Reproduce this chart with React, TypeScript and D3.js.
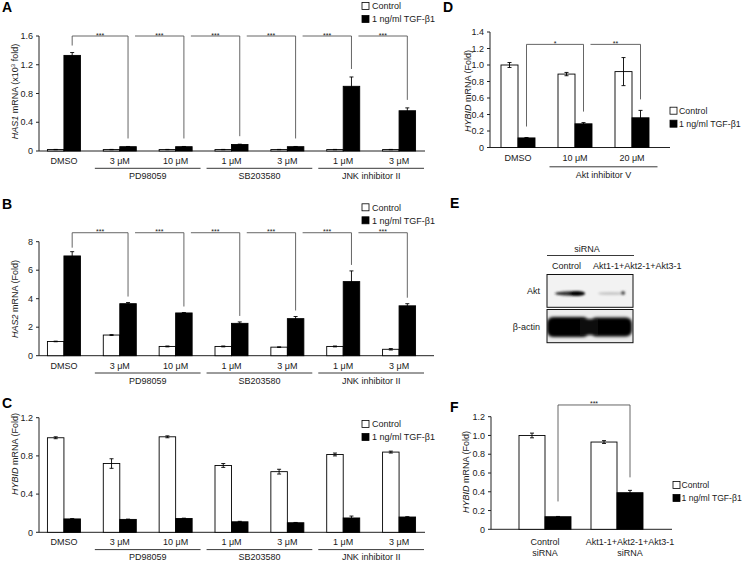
import React from "react";
import * as d3 from "d3";

const FONT = "'Liberation Sans', Arial, Helvetica, sans-serif";

// ---------- Panels A, B, C (shared categories) ----------
const abcCategories = ["DMSO", "3 μM", "10 μM", "1 μM", "3 μM", "1 μM", "3 μM"];
const abcGroupNames = ["PD98059", "SB203580", "JNK inhibitor II"];
const abcGroupFirst = [1, 3, 5];
const abcGroupLast = [2, 4, 6];

// Panel A: HAS1 mRNA (x10^3 fold)
const aControl = [0.02, 0.02, 0.02, 0.02, 0.02, 0.02, 0.02];
const aControlErr = [0.002, 0.002, 0.002, 0.002, 0.002, 0.002, 0.002];
const aTgf = [1.33, 0.06, 0.06, 0.09, 0.06, 0.9, 0.56];
const aTgfErr = [0.04, 0.003, 0.003, 0.005, 0.003, 0.13, 0.04];
const aTicks = [0, 0.4, 0.8, 1.2, 1.6];
const aBracketTargets = [1, 2, 3, 4, 5, 6];
const aBracketStars = ["***", "***", "***", "***", "***", "***"];

// Panel B: HAS2 mRNA (Fold)
const bControl = [1.0, 1.45, 0.65, 0.65, 0.6, 0.65, 0.45];
const bControlErr = [0.02, 0.03, 0.03, 0.03, 0.02, 0.03, 0.05];
const bTgf = [7.0, 3.65, 3.0, 2.27, 2.6, 5.2, 3.5];
const bTgfErr = [0.3, 0.08, 0.03, 0.1, 0.15, 0.75, 0.15];
const bTicks = [0, 2, 4, 6, 8];
const bBracketTargets = [1, 2, 3, 4, 5, 6];
const bBracketStars = ["***", "***", "***", "***", "***", "***"];

// Panel C: HYBID mRNA (Fold)
const cControl = [0.99, 0.72, 1.0, 0.7, 0.635, 0.815, 0.84];
const cControlErr = [0.01, 0.05, 0.01, 0.02, 0.025, 0.015, 0.01];
const cTgf = [0.14, 0.135, 0.145, 0.11, 0.1, 0.15, 0.16];
const cTgfErr = [0.003, 0.003, 0.003, 0.005, 0.003, 0.02, 0.003];
const cTicks = [0, 0.4, 0.8, 1.2];

// Panel D: HYBID mRNA (Fold), Akt inhibitor V
const dCategories = ["DMSO", "10 μM", "20 μM"];
const dGroupNames = ["Akt inhibitor V"];
const dGroupFirst = [1];
const dGroupLast = [2];
const dControl = [1.0, 0.89, 0.92];
const dControlErr = [0.03, 0.02, 0.17];
const dTgf = [0.116, 0.287, 0.36];
const dTgfErr = [0.005, 0.015, 0.09];
const dTicks = [0, 0.2, 0.4, 0.6, 0.8, 1.0, 1.2, 1.4];
const dBracketTargets = [1, 2];
const dBracketStars = ["*", "**"];

// Panel F: HYBID mRNA (Fold), siRNA
const fCategoriesLine1 = ["Control", "Akt1-1+Akt2-1+Akt3-1"];
const fCategoriesLine2 = ["siRNA", "siRNA"];
const fControl = [1.0, 0.93];
const fControlErr = [0.025, 0.015];
const fTgf = [0.134, 0.39];
const fTgfErr = [0.003, 0.025];
const fTicks = [0, 0.2, 0.4, 0.6, 0.8, 1.0, 1.2];
const fBracketTargets = [1];
const fBracketStars = ["***"];

// Panel E: western blot labels
const eLanes = ["Control", "Akt1-1+Akt2-1+Akt3-1"];
const eRows = ["Akt", "β-actin"];

const legendLabels = ["Control", "1 ng/ml TGF-β1"];

const TXT = "#1a1a1a";
const AX = "#222";
const BR = "#555";

type PanelCfg = {
  n: number;
  ctrl: number[];
  ctrlErr: number[];
  tgf: number[];
  tgfErr: number[];
  ticks: number[];
  fmt: (v: number) => string;
  yMax: number;
  x0: number;
  x1: number;
  band: [number, number];
  barW: number;
  y0: number;
  yTop: number;
  bracketLevel?: number;
  bracketTargets?: number[];
  bracketStars?: string[];
  riserGap?: number;
  dropGap?: number;
};

function useScales(c: PanelCfg) {
  const x = d3
    .scaleBand<number>()
    .domain(d3.range(c.n))
    .range(c.band)
    .paddingInner(0)
    .paddingOuter(0);
  const y = d3.scaleLinear().domain([0, c.yMax]).range([c.y0, c.yTop]);
  const cx = (i: number) => (x(i) as number) + x.bandwidth() / 2;
  return { x, y, cx };
}

function Bars({ c }: { c: PanelCfg }) {
  const { y, cx } = useScales(c);
  const w = c.barW;
  const errBar = (xc: number, v: number, e: number, key: string) => (
    <g key={key} stroke="#000" strokeWidth={0.9}>
      <line x1={xc} x2={xc} y1={y(v + e)} y2={y(Math.max(0, v - e))} />
      <line x1={xc - 2} x2={xc + 2} y1={y(v + e)} y2={y(v + e)} />
      <line x1={xc - 2} x2={xc + 2} y1={y(Math.max(0, v - e))} y2={y(Math.max(0, v - e))} />
    </g>
  );
  const brackets: React.ReactNode[] = [];
  if (c.bracketTargets && c.bracketLevel !== undefined) {
    const yb = y(c.bracketLevel);
    const dmsoX = cx(0) + w / 2;
    let prev = -1;
    c.bracketTargets.forEach((t, k) => {
      const tx = cx(t) + w / 2;
      const dropEnd = y(c.tgf[t] + c.tgfErr[t]) - (c.dropGap ?? 8);
      let d = "";
      let sx: number;
      if (k === 0) {
        sx = dmsoX;
        const riserEnd = y(c.tgf[0] + c.tgfErr[0]) - (c.riserGap ?? 8);
        d = `M${sx},${riserEnd}V${yb}H${tx}V${dropEnd}`;
      } else {
        sx = prev + 7;
        d = `M${sx},${yb}H${tx}V${dropEnd}`;
      }
      prev = tx;
      brackets.push(
        <g key={"br" + k}>
          <path d={d} fill="none" stroke={BR} strokeWidth={0.9} />
          <text
            x={(sx + tx) / 2}
            y={yb + 1.5}
            fontSize={7}
            textAnchor="middle"
            fill={TXT}
            fontFamily={FONT}
          >
            {c.bracketStars ? c.bracketStars[k] : ""}
          </text>
        </g>
      );
    });
  }
  return (
    <g>
      <line x1={c.x0} x2={c.x0} y1={c.y0} y2={c.yTop} stroke={AX} strokeWidth={1} />
      <line x1={c.x0} x2={c.x1} y1={c.y0} y2={c.y0} stroke={AX} strokeWidth={1} />
      {c.ticks.map((t) => (
        <g key={"t" + t}>
          <line x1={c.x0 - 3} x2={c.x0} y1={y(t)} y2={y(t)} stroke={AX} strokeWidth={1} />
          <text
            x={c.x0 - 6}
            y={y(t) + 3.2}
            fontSize={9}
            textAnchor="end"
            fill={TXT}
            fontFamily={FONT}
          >
            {c.fmt(t)}
          </text>
        </g>
      ))}
      {c.ctrl.map((v, i) => (
        <rect
          key={"c" + i}
          x={cx(i) - w}
          y={y(v)}
          width={w}
          height={c.y0 - y(v)}
          fill="#fff"
          stroke="#000"
          strokeWidth={0.9}
        />
      ))}
      {c.tgf.map((v, i) => (
        <rect
          key={"g" + i}
          x={cx(i)}
          y={y(v)}
          width={w}
          height={c.y0 - y(v)}
          fill="#000"
          stroke="#000"
          strokeWidth={0.9}
        />
      ))}
      {c.ctrl.map((v, i) => errBar(cx(i) - w / 2, v, c.ctrlErr[i], "ce" + i))}
      {c.tgf.map((v, i) => errBar(cx(i) + w / 2, v, c.tgfErr[i], "ge" + i))}
      {brackets}
    </g>
  );
}

function CatLabels({
  c,
  cats,
  groupNames,
  groupFirst,
  groupLast,
  catDy,
  lineDy,
  groupDy,
}: {
  c: PanelCfg;
  cats: string[];
  groupNames: string[];
  groupFirst: number[];
  groupLast: number[];
  catDy: number;
  lineDy: number;
  groupDy: number;
}) {
  const { x, cx } = useScales(c);
  const step = x.step();
  return (
    <g fontFamily={FONT} fontSize={9} fill={TXT}>
      {cats.map((s, i) => (
        <text key={"cl" + i} x={cx(i)} y={c.y0 + catDy} textAnchor="middle">
          {s}
        </text>
      ))}
      {groupNames.map((g, k) => {
        const a = cx(groupFirst[k]) - step / 2 + 3;
        const b = cx(groupLast[k]) + step / 2 - 3;
        return (
          <g key={"gl" + k}>
            <line x1={a} x2={b} y1={c.y0 + lineDy} y2={c.y0 + lineDy} stroke={AX} strokeWidth={0.9} />
            <text x={(a + b) / 2} y={c.y0 + groupDy} textAnchor="middle">
              {g}
            </text>
          </g>
        );
      })}
    </g>
  );
}

function Legend({ x, y, gap = 10, fs = 9 }: { x: number; y: number; gap?: number; fs?: number }) {
  return (
    <g fontFamily={FONT} fontSize={fs} fill={TXT}>
      {legendLabels.map((l, i) => (
        <g key={l}>
          <rect
            x={x}
            y={y + i * 13 - 3.5}
            width={7}
            height={7}
            fill={i === 0 ? "#fff" : "#000"}
            stroke="#000"
            strokeWidth={0.8}
          />
          <text x={x + gap} y={y + i * 13 + 3.2}>
            {l}
          </text>
        </g>
      ))}
    </g>
  );
}

function YLabel({
  x,
  y,
  gene,
  rest,
  sup,
  after,
}: {
  x: number;
  y: number;
  gene: string;
  rest: string;
  sup?: string;
  after?: string;
}) {
  return (
    <text
      transform={`translate(${x},${y}) rotate(-90)`}
      textAnchor="middle"
      fontFamily={FONT}
      fontSize={9}
      fill={TXT}
    >
      <tspan fontStyle="italic">{gene}</tspan>
      <tspan>{rest}</tspan>
      {sup ? (
        <tspan fontSize={6} dy={-3}>
          {sup}
        </tspan>
      ) : null}
      {after ? <tspan dy={sup ? 3 : 0}>{after}</tspan> : null}
    </text>
  );
}

function PanelLetter({ x, y, t }: { x: number; y: number; t: string }) {
  return (
    <text x={x} y={y} fontFamily={FONT} fontSize={14} fontWeight="bold" fill="#000">
      {t}
    </text>
  );
}

const fmt1 = (v: number) => (v === 0 ? "0" : v.toFixed(1));
const fmt0 = (v: number) => String(v);

const cfgA: PanelCfg = {
  n: abcCategories.length,
  ctrl: aControl,
  ctrlErr: aControlErr,
  tgf: aTgf,
  tgfErr: aTgfErr,
  ticks: aTicks,
  fmt: fmt1,
  yMax: 1.6,
  x0: 39,
  x1: 425,
  band: [36, 427],
  barW: 16.5,
  y0: 151,
  yTop: 36,
  bracketLevel: 1.6,
  bracketTargets: aBracketTargets,
  bracketStars: aBracketStars,
  riserGap: 7,
  dropGap: 8,
};

const cfgB: PanelCfg = {
  n: abcCategories.length,
  ctrl: bControl,
  ctrlErr: bControlErr,
  tgf: bTgf,
  tgfErr: bTgfErr,
  ticks: bTicks,
  fmt: fmt0,
  yMax: 8,
  x0: 39,
  x1: 434,
  band: [36, 427],
  barW: 16.5,
  y0: 355.7,
  yTop: 241.7,
  bracketLevel: 8.63,
  bracketTargets: bBracketTargets,
  bracketStars: bBracketStars,
  riserGap: 4,
  dropGap: 6,
};

const cfgC: PanelCfg = {
  n: abcCategories.length,
  ctrl: cControl,
  ctrlErr: cControlErr,
  tgf: cTgf,
  tgfErr: cTgfErr,
  ticks: cTicks,
  fmt: fmt1,
  yMax: 1.2,
  x0: 39,
  x1: 425,
  band: [36, 427],
  barW: 16.5,
  y0: 532.3,
  yTop: 417.7,
};

const cfgD: PanelCfg = {
  n: dCategories.length,
  ctrl: dControl,
  ctrlErr: dControlErr,
  tgf: dTgf,
  tgfErr: dTgfErr,
  ticks: dTicks,
  fmt: fmt1,
  yMax: 1.4,
  x0: 490,
  x1: 670,
  band: [489.5, 660.5],
  barW: 17,
  y0: 147.5,
  yTop: 32,
  bracketLevel: 1.25,
  bracketTargets: dBracketTargets,
  bracketStars: dBracketStars,
  riserGap: 11,
  dropGap: 11,
};

const cfgF: PanelCfg = {
  n: fControl.length,
  ctrl: fControl,
  ctrlErr: fControlErr,
  tgf: fTgf,
  tgfErr: fTgfErr,
  ticks: fTicks,
  fmt: fmt1,
  yMax: 1.2,
  x0: 491,
  x1: 672,
  band: [509, 653],
  barW: 26,
  y0: 529.3,
  yTop: 416.7,
  bracketLevel: 1.325,
  bracketTargets: fBracketTargets,
  bracketStars: fBracketStars,
  riserGap: 15,
  dropGap: 13,
};

function FLabels() {
  const { cx } = useScales(cfgF);
  const w = cfgF.barW;
  const lx = (i: number) => (i === 0 ? cx(i) : cx(i) + w / 2);
  return (
    <g fontFamily={FONT} fontSize={9} fill={TXT} textAnchor="middle">
      {fCategoriesLine1.map((s, i) => (
        <text key={"f1" + i} x={lx(i)} y={cfgF.y0 + 16}>
          {s}
        </text>
      ))}
      {fCategoriesLine2.map((s, i) => (
        <text key={"f2" + i} x={lx(i)} y={cfgF.y0 + 26.5}>
          {s}
        </text>
      ))}
    </g>
  );
}

function Blot() {
  const bx0 = 547;
  const bx1 = 633;
  const r1 = [274.5, 307.3];
  const r2 = [309.5, 342.7];
  const laneX = d3.scaleBand<number>().domain([0, 1]).range([bx0, bx1]);
  return (
    <g>
      <defs>
        <filter id="blur1" x="-20%" y="-50%" width="140%" height="200%">
          <feGaussianBlur stdDeviation="1.3" />
        </filter>
        <filter id="blur2" x="-20%" y="-50%" width="140%" height="200%">
          <feGaussianBlur stdDeviation="1.6" />
        </filter>
        <clipPath id="clip1">
          <rect x={bx0} y={r1[0]} width={bx1 - bx0} height={r1[1] - r1[0]} />
        </clipPath>
        <clipPath id="clip2">
          <rect x={bx0} y={r2[0]} width={bx1 - bx0} height={r2[1] - r2[0]} />
        </clipPath>
      </defs>
      <g fontFamily={FONT} fontSize={9} fill={TXT}>
        <text x={587} y={251.5} textAnchor="middle">
          siRNA
        </text>
        <line x1={547} x2={634} y1={255.5} y2={255.5} stroke={AX} strokeWidth={0.9} />
        <text x={(laneX(0) as number) + laneX.bandwidth() / 2 - 2} y={268.5} textAnchor="middle">
          {eLanes[0]}
        </text>
        <text x={593} y={268.5}>
          {eLanes[1]}
        </text>
        <text x={540} y={294} textAnchor="end">
          {eRows[0]}
        </text>
        <text x={540} y={329.5} textAnchor="end">
          {eRows[1]}
        </text>
      </g>
      <rect x={bx0} y={r1[0]} width={bx1 - bx0} height={r1[1] - r1[0]} fill="#f2f2f2" />
      <rect x={bx0} y={r2[0]} width={bx1 - bx0} height={r2[1] - r2[0]} fill="#ececec" />
      <g clipPath="url(#clip1)">
        <g filter="url(#blur1)">
          <ellipse cx={570} cy={293.5} rx={15} ry={2.2} fill="#333" />
          <ellipse cx={577} cy={293.5} rx={8} ry={2.6} fill="#000" />
          <ellipse cx={611} cy={293.5} rx={13} ry={1.6} fill="#c8c8c8" />
          <ellipse cx={623} cy={293} rx={2.2} ry={2} fill="#555" />
        </g>
      </g>
      <g clipPath="url(#clip2)">
        <g filter="url(#blur2)">
          <rect x={547} y={317} width={42} height={20} rx={6} fill="#000" />
          <rect x={590} y={317.5} width={42} height={19} rx={6} fill="#000" />
          <rect x={580} y={319} width={18} height={16} fill="#111" />
        </g>
      </g>
      <rect
        x={bx0}
        y={r1[0]}
        width={bx1 - bx0}
        height={r1[1] - r1[0]}
        fill="none"
        stroke="#111"
        strokeWidth={1}
      />
      <rect
        x={bx0}
        y={r2[0]}
        width={bx1 - bx0}
        height={r2[1] - r2[0]}
        fill="none"
        stroke="#111"
        strokeWidth={1}
      />
    </g>
  );
}

export default function App() {
  return (
    <svg
      width={745}
      height={563}
      viewBox="0 0 745 563"
      style={{ position: "absolute", left: 0, top: 0, background: "#fff" }}
    >
      <rect x={0} y={0} width={745} height={563} fill="#fff" />
      {/* Panel A */}
      <PanelLetter x={2} y={12} t="A" />
      <YLabel x={18} y={91.5} gene="HAS1" rest=" mRNA (x10" sup="3" after=" fold)" />
      <Bars c={cfgA} />
      <CatLabels
        c={cfgA}
        cats={abcCategories}
        groupNames={abcGroupNames}
        groupFirst={abcGroupFirst}
        groupLast={abcGroupLast}
        catDy={13}
        lineDy={17.3}
        groupDy={28}
      />
      <Legend x={362} y={6} />

      {/* Panel B */}
      <PanelLetter x={2} y={209} t="B" />
      <YLabel x={18} y={299} gene="HAS2" rest=" mRNA (Fold)" />
      <Bars c={cfgB} />
      <CatLabels
        c={cfgB}
        cats={abcCategories}
        groupNames={abcGroupNames}
        groupFirst={abcGroupFirst}
        groupLast={abcGroupLast}
        catDy={13}
        lineDy={17.3}
        groupDy={28}
      />
      <Legend x={362} y={207.3} />

      {/* Panel C */}
      <PanelLetter x={2} y={408} t="C" />
      <YLabel x={18} y={454} gene="HYBID" rest=" mRNA (Fold)" />
      <Bars c={cfgC} />
      <CatLabels
        c={cfgC}
        cats={abcCategories}
        groupNames={abcGroupNames}
        groupFirst={abcGroupFirst}
        groupLast={abcGroupLast}
        catDy={13}
        lineDy={17.3}
        groupDy={28}
      />
      <Legend x={362} y={424} />

      {/* Panel D */}
      <PanelLetter x={443} y={12} t="D" />
      <YLabel x={471} y={91} gene="HYBID" rest=" mRNA (Fold)" />
      <Bars c={cfgD} />
      <CatLabels
        c={cfgD}
        cats={dCategories}
        groupNames={dGroupNames}
        groupFirst={dGroupFirst}
        groupLast={dGroupLast}
        catDy={13}
        lineDy={19.3}
        groupDy={30}
      />
      <Legend x={670} y={110.7} gap={9} fs={8.8} />

      {/* Panel E */}
      <PanelLetter x={450} y={208} t="E" />
      <Blot />

      {/* Panel F */}
      <PanelLetter x={450} y={412} t="F" />
      <YLabel x={469} y={472} gene="HYBID" rest=" mRNA (Fold)" />
      <Bars c={cfgF} />
      <FLabels />
      <Legend x={673} y={485} gap={8.5} fs={8.6} />
    </svg>
  );
}
